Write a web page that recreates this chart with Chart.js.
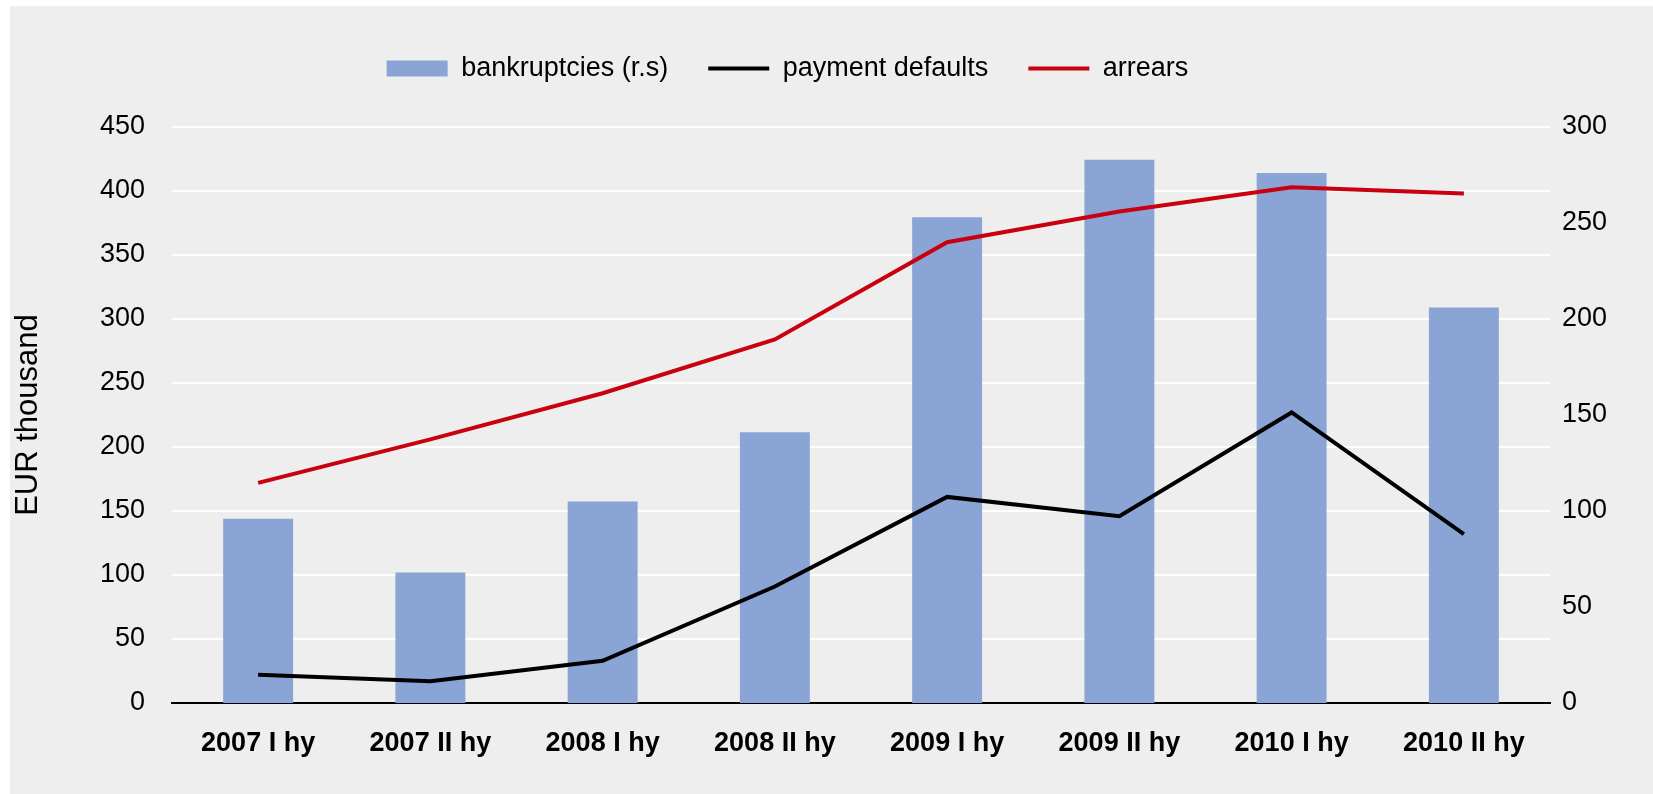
<!DOCTYPE html>
<html lang="en">
<head>
<meta charset="utf-8">
<title>Bankruptcies, payment defaults and arrears</title>
<script src="https://cdn.jsdelivr.net/npm/chart.js@4.4.0/dist/chart.umd.min.js"></script>
<style>
  html, body { margin: 0; padding: 0; background: #fff; }
  .panel {
    position: absolute;
    left: 10px;
    top: 6px;
    width: 1643px;
    height: 788px;
    background: #edeeed;
  }
</style>
</head>
<body>
<div class="panel"><canvas id="chart"></canvas></div>
<script>
// Half-year periods
const halfYears = ['2007 I hy', '2007 II hy', '2008 I hy', '2008 II hy',
                   '2009 I hy', '2009 II hy', '2010 I hy', '2010 II hy'];

// Bankruptcies (right scale)
const bankruptcies = [96, 68, 105, 141, 253, 283, 276, 206];
// EUR thousand (left scale)
const paymentDefaults = [22, 17, 33, 91, 161, 146, 227, 132];
const arrears = [172, 206, 242, 284, 360, 384, 403, 398];

// Tick values for both axes
const leftTicks = [0, 50, 100, 150, 200, 250, 300, 350, 400, 450];
const rightTicks = [0, 50, 100, 150, 200, 250, 300];

Chart.defaults.font.family = '"Liberation Sans", Arial, Helvetica, sans-serif';
Chart.defaults.color = '#000';

// Extra room under the legend, and nudge it a bit to the left
const legendSpacer = {
  id: 'legendSpacer',
  beforeInit(chart) {
    const originalFit = chart.legend.fit;
    chart.legend.fit = function fit() {
      originalFit.bind(chart.legend)();
      this.height += 35;
    };
  },
  afterLayout(chart) {
    chart.legend.right -= 88;
  }
};

const ctx = document.getElementById('chart').getContext('2d');
new Chart(ctx, {
  type: 'bar',
  data: {
    labels: halfYears,
    datasets: [
      {
        type: 'bar',
        label: 'bankruptcies (r.s)',
        data: bankruptcies,
        yAxisID: 'y1',
        backgroundColor: '#89a4d5',
        borderWidth: 0,
        categoryPercentage: 1,
        barPercentage: 0.406,
        pointStyle: 'rect',
        order: 3
      },
      {
        type: 'line',
        label: 'payment defaults',
        data: paymentDefaults,
        yAxisID: 'y',
        borderColor: '#000',
        backgroundColor: '#000',
        borderWidth: 4,
        pointRadius: 0,
        pointStyle: 'line',
        tension: 0,
        order: 1
      },
      {
        type: 'line',
        label: 'arrears',
        data: arrears,
        yAxisID: 'y',
        borderColor: '#c8000f',
        backgroundColor: '#c8000f',
        borderWidth: 4,
        pointRadius: 0,
        pointStyle: 'line',
        tension: 0,
        order: 2
      }
    ]
  },
  options: {
    responsive: true,
    maintainAspectRatio: false,
    animation: false,
    layout: {
      padding: { top: 9, right: 0, bottom: 0, left: 0 }
    },
    plugins: {
      legend: {
        position: 'top',
        labels: {
          usePointStyle: true,
          pointStyleWidth: 61,
          boxHeight: 16,
          padding: 40,
          color: '#000',
          font: { size: 27 },
          sort: (a, b) => a.datasetIndex - b.datasetIndex
        }
      },
      tooltip: { enabled: false }
    },
    scales: {
      x: {
        grid: { display: false },
        border: { display: true, color: '#000', width: 2 },
        ticks: {
          color: '#000',
          padding: 16,
          maxRotation: 0,
          font: { size: 27, weight: 'bold' }
        },
        afterFit: scale => { scale.height = 91; }
      },
      y: {
        position: 'left',
        min: 0,
        max: 450,
        afterBuildTicks: axis => { axis.ticks = leftTicks.map(v => ({ value: v })); },
        grid: { color: '#fff', lineWidth: 2, drawTicks: false },
        border: { display: false },
        ticks: { color: '#000', padding: 27, font: { size: 27 } },
        title: {
          display: true,
          text: 'EUR thousand',
          color: '#000',
          font: { size: 31 },
          padding: { top: 0, bottom: 0 }
        },
        afterFit: scale => { scale.width = 162; }
      },
      y1: {
        position: 'right',
        min: 0,
        max: 300,
        afterBuildTicks: axis => { axis.ticks = rightTicks.map(v => ({ value: v })); },
        grid: { display: false, drawTicks: false },
        border: { display: false },
        ticks: { color: '#000', padding: 12, font: { size: 27 } },
        afterFit: scale => { scale.width = 103; }
      }
    }
  },
  plugins: [legendSpacer]
});
</script>
</body>
</html>
